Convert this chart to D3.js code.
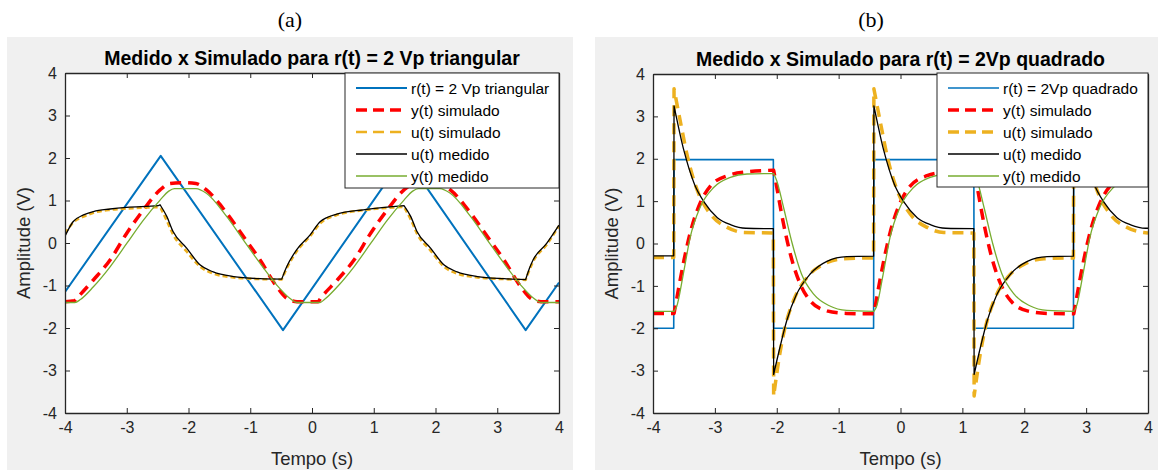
<!DOCTYPE html>
<meta charset="utf-8">
<style>
  body { margin: 0; background: #fff; }
  svg text { font-family: "Liberation Sans", Arial, sans-serif; fill: #262626; }
</style>
<body>

<div class="chart"></div>

<!-- load the d3.js library -->
<script src="https://d3js.org/d3.v7.min.js"></script>

<script>

// ---- data ----
var xTicks = [-4, -3, -2, -1, 0, 1, 2, 3, 4];
var yTicks = [-4, -3, -2, -1, 0, 1, 2, 3, 4];

var titleA = "Medido x Simulado para r(t) = 2 Vp triangular";
var titleB = "Medido x Simulado para r(t) = 2Vp quadrado";
var namesA = ["r(t) = 2 Vp triangular", "y(t) simulado", "u(t) simulado", "u(t) medido", "y(t) medido"];
var namesB = ["r(t) = 2Vp quadrado", "y(t) simulado", "u(t) simulado", "u(t) medido", "y(t) medido"];

// (a) triangular input; every series is a list of continuous pieces [t, v]
var rTriA = [[[-4, -1.15], [-2.45, 2.05], [-0.47, -2.05], [1.50, 2.05], [3.46, -2.05], [4, -0.93]]];

var ySimA = [[[-4, -1.38], [-3.85, -1.36], [-3.81, -1.30], [-3.54, -0.87], [-3.27, -0.40], [-3.0, 0.23],
  [-2.73, 0.78], [-2.46, 1.25], [-2.30, 1.40], [-2.10, 1.42], [-1.88, 1.40], [-1.71, 1.25], [-1.38, 0.70],
  [-1.11, 0.15], [-0.84, -0.40], [-0.57, -1.03], [-0.41, -1.30], [-0.24, -1.38], [0.10, -1.38],
  [0.14, -1.30], [0.41, -0.87], [0.68, -0.40], [0.95, 0.23], [1.22, 0.78], [1.49, 1.25], [1.65, 1.40],
  [1.85, 1.42], [2.07, 1.40], [2.24, 1.25], [2.57, 0.70], [2.84, 0.15], [3.11, -0.40], [3.38, -1.03],
  [3.54, -1.30], [3.71, -1.38], [4.0, -1.38]]];

var uSimA = [[[-4, 0.22], [-3.87, 0.48], [-3.70, 0.62], [-3.54, 0.71], [-3.27, 0.78], [-3.0, 0.81],
  [-2.49, 0.84], [-2.45, 0.82]],
  [[-2.45, 0.82], [-2.35, 0.52], [-2.25, 0.20], [-2.03, -0.20], [-1.81, -0.56], [-1.60, -0.72],
  [-1.27, -0.81], [-0.84, -0.85], [-0.49, -0.86]],
  [[-0.49, -0.86], [-0.41, -0.60], [-0.25, -0.20], [-0.03, 0.16], [0.13, 0.46], [0.40, 0.66],
  [0.83, 0.77], [1.26, 0.83], [1.49, 0.85]],
  [[1.49, 0.85], [1.60, 0.55], [1.70, 0.22], [1.92, -0.18], [2.14, -0.56], [2.35, -0.72], [2.68, -0.81],
  [3.11, -0.85], [3.46, -0.87]],
  [[3.46, -0.87], [3.52, -0.64], [3.58, -0.44], [3.80, -0.04], [4.0, 0.40]]];

var uMedA = [[[-4, 0.16], [-3.87, 0.50], [-3.70, 0.66], [-3.54, 0.74], [-3.27, 0.80], [-3.0, 0.84],
  [-2.49, 0.88], [-2.46, 0.90]],
  [[-2.46, 0.90], [-2.35, 0.62], [-2.25, 0.27], [-2.03, -0.12], [-1.81, -0.52], [-1.60, -0.68],
  [-1.27, -0.79], [-0.84, -0.84], [-0.49, -0.85]],
  [[-0.49, -0.85], [-0.41, -0.56], [-0.25, -0.16], [-0.03, 0.19], [0.13, 0.50], [0.40, 0.68],
  [0.83, 0.78], [1.26, 0.85], [1.49, 0.88]],
  [[1.49, 0.88], [1.60, 0.62], [1.70, 0.27], [1.92, -0.12], [2.14, -0.52], [2.35, -0.68], [2.68, -0.79],
  [3.11, -0.84], [3.46, -0.86]],
  [[3.46, -0.86], [3.52, -0.60], [3.58, -0.40], [3.80, -0.01], [4.0, 0.42]]];

var yMedA = [[[-4, -1.40], [-3.84, -1.40], [-3.75, -1.33], [-3.54, -1.03], [-3.27, -0.56], [-3.0, -0.01],
  [-2.73, 0.54], [-2.46, 1.01], [-2.32, 1.22], [-2.23, 1.28], [-1.88, 1.28], [-1.71, 1.17], [-1.38, 0.62],
  [-1.11, 0.07], [-0.84, -0.48], [-0.57, -0.99], [-0.36, -1.30], [-0.25, -1.40], [0.13, -1.40],
  [0.20, -1.33], [0.41, -1.03], [0.68, -0.56], [0.95, -0.01], [1.22, 0.54], [1.49, 1.01], [1.63, 1.22],
  [1.72, 1.28], [2.07, 1.28], [2.24, 1.17], [2.57, 0.62], [2.84, 0.07], [3.11, -0.48], [3.38, -0.99],
  [3.59, -1.30], [3.70, -1.40], [4.0, -1.40]]];

// (b) square input
var rSqB = [[[-4, -2], [-3.665, -2], [-3.66, 1.98], [-2.055, 1.98], [-2.05, -2], [-0.435, -2], [-0.43, 1.98],
  [1.185, 1.98], [1.19, -2], [2.795, -2], [2.80, 1.98], [4, 1.98]]];

var ySimB = [[[-4, -1.65], [-3.66, -1.65]],
  [[-3.66, -1.65], [-3.61, -1.25], [-3.50, -0.40], [-3.39, 0.30], [-3.23, 0.98], [-3.07, 1.36], [-2.80, 1.60],
  [-2.48, 1.69], [-2.05, 1.73]],
  [[-2.05, 1.73], [-2.00, 1.33], [-1.89, 0.46], [-1.78, -0.25], [-1.62, -0.96], [-1.46, -1.35], [-1.19, -1.59],
  [-0.87, -1.65], [-0.43, -1.66]],
  [[-0.43, -1.66], [-0.38, -1.25], [-0.27, -0.40], [-0.16, 0.30], [0.00, 0.98], [0.16, 1.36], [0.43, 1.60],
  [0.75, 1.69], [1.19, 1.73]],
  [[1.19, 1.73], [1.24, 1.33], [1.35, 0.46], [1.46, -0.25], [1.62, -0.96], [1.78, -1.35], [2.05, -1.59],
  [2.37, -1.65], [2.80, -1.66]],
  [[2.80, -1.66], [2.85, -1.25], [2.96, -0.40], [3.07, 0.30], [3.23, 0.98], [3.39, 1.36], [3.66, 1.60],
  [3.98, 1.69], [4.0, 1.69]]];

var uSimB = [[[-4, -0.33], [-3.665, -0.33]],
  [[-3.66, 3.65], [-3.55, 2.82], [-3.44, 2.03], [-3.28, 1.24], [-3.07, 0.69], [-2.80, 0.38], [-2.53, 0.26],
  [-2.055, 0.25]],
  [[-2.05, -3.60], [-1.95, -2.60], [-1.87, -2.00], [-1.73, -1.35], [-1.51, -0.80], [-1.24, -0.49],
  [-0.92, -0.36], [-0.435, -0.34]],
  [[-0.43, 3.65], [-0.32, 2.82], [-0.21, 2.03], [-0.05, 1.24], [0.16, 0.69], [0.43, 0.38], [0.70, 0.26],
  [1.185, 0.25]],
  [[1.19, -3.60], [1.29, -2.60], [1.37, -2.00], [1.51, -1.35], [1.73, -0.80], [2.00, -0.49], [2.32, -0.36],
  [2.795, -0.34]],
  [[2.80, 3.65], [2.91, 2.82], [3.02, 2.03], [3.18, 1.24], [3.39, 0.69], [3.66, 0.38], [3.93, 0.26],
  [4.0, 0.25]]];

var uMedB = [[[-4, -0.29], [-3.665, -0.29]],
  [[-3.66, 3.25], [-3.50, 2.19], [-3.33, 1.40], [-3.17, 0.97], [-2.96, 0.61], [-2.74, 0.44], [-2.50, 0.36],
  [-2.055, 0.35]],
  [[-2.05, -3.09], [-1.95, -2.46], [-1.84, -1.83], [-1.68, -1.20], [-1.46, -0.72], [-1.19, -0.42],
  [-0.87, -0.31], [-0.435, -0.30]],
  [[-0.43, 3.25], [-0.27, 2.19], [-0.10, 1.40], [0.06, 0.97], [0.27, 0.61], [0.49, 0.44], [0.73, 0.36],
  [1.185, 0.35]],
  [[1.19, -3.09], [1.29, -2.46], [1.40, -1.83], [1.56, -1.20], [1.78, -0.72], [2.05, -0.42], [2.37, -0.31],
  [2.795, -0.30]],
  [[2.80, 3.25], [2.96, 2.19], [3.13, 1.40], [3.29, 0.97], [3.50, 0.61], [3.72, 0.44], [3.96, 0.36],
  [4.0, 0.36]]];

var yMedB = [[[-4, -1.60], [-3.66, -1.60]],
  [[-3.66, -1.60], [-3.62, -1.50], [-3.51, -0.72], [-3.40, 0.14], [-3.24, 0.85], [-3.02, 1.32], [-2.75, 1.56],
  [-2.48, 1.64], [-2.05, 1.65]],
  [[-2.05, 1.65], [-2.00, 1.48], [-1.89, 0.85], [-1.75, 0.00], [-1.60, -0.72], [-1.40, -1.20], [-1.15, -1.47],
  [-0.87, -1.58], [-0.43, -1.60]],
  [[-0.43, -1.60], [-0.39, -1.50], [-0.28, -0.72], [-0.17, 0.14], [-0.01, 0.85], [0.21, 1.32], [0.48, 1.56],
  [0.75, 1.64], [1.19, 1.65]],
  [[1.19, 1.65], [1.24, 1.48], [1.35, 0.85], [1.49, 0.00], [1.64, -0.72], [1.84, -1.20], [2.09, -1.47],
  [2.37, -1.58], [2.80, -1.60]],
  [[2.80, -1.60], [2.84, -1.50], [2.95, -0.72], [3.06, 0.14], [3.22, 0.85], [3.44, 1.32], [3.71, 1.56],
  [3.98, 1.64], [4.0, 1.64]]];

// ---- page ----
var W = 1158, H = 470;

var svg = d3.select(".chart").append("svg")
    .attr("width", W)
    .attr("height", H);

// grey figure backgrounds
svg.append("rect").attr("x", 7).attr("y", 37).attr("width", 566).attr("height", H - 37).style("fill", "#f0f0f0");
svg.append("rect").attr("x", 595).attr("y", 37).attr("width", W - 595).attr("height", H - 37).style("fill", "#f0f0f0");

// panel letters
svg.append("text").attr("x", 290).attr("y", 27).attr("text-anchor", "middle")
    .style("font-family", "'Liberation Serif', 'Times New Roman', serif").style("font-size", "22px").style("fill", "#000")
    .text("(a)");
svg.append("text").attr("x", 871).attr("y", 27).attr("text-anchor", "middle")
    .style("font-family", "'Liberation Serif', 'Times New Roman', serif").style("font-size", "22px").style("fill", "#000")
    .text("(b)");

drawPanel({
  id: "A", left: 65, right: 559, top: 73, bottom: 413,
  title: titleA, names: namesA,
  legend: {x: 345, y: 73, w: 214, h: 115},
  series: [
    {data: rTriA, color: "#0072BD", width: 2, dash: null, smooth: false},
    {data: ySimA, color: "#FF0000", width: 3.5, dash: "11,7", smooth: true},
    {data: uSimA, color: "#EDB120", width: 2.5, dash: "5,3", smooth: true},
    {data: uMedA, color: "#000000", width: 1.3, dash: null, smooth: true},
    {data: yMedA, color: "#77AC30", width: 1.3, dash: null, smooth: true}
  ]
});

drawPanel({
  id: "B", left: 653, right: 1148, top: 74, bottom: 413,
  title: titleB, names: namesB,
  legend: {x: 937, y: 73, w: 211, h: 114},
  series: [
    {data: rSqB, color: "#0072BD", width: 1.6, dash: null, smooth: false},
    {data: ySimB, color: "#FF0000", width: 3.5, dash: "11,7", smooth: true},
    {data: uSimB, color: "#EDB120", width: 3.5, dash: "11,7", smooth: true},
    {data: uMedB, color: "#000000", width: 1.3, dash: null, smooth: true},
    {data: yMedB, color: "#77AC30", width: 1.3, dash: null, smooth: true}
  ]
});

function drawPanel(p) {
  var x = d3.scaleLinear().domain([-4, 4]).range([p.left, p.right]);
  var y = d3.scaleLinear().domain([-4, 4]).range([p.bottom, p.top]);
  var cx = (p.left + p.right) / 2;

  var g = svg.append("g");

  // white axes area
  g.append("rect")
      .attr("x", p.left).attr("y", p.top)
      .attr("width", p.right - p.left).attr("height", p.bottom - p.top)
      .style("fill", "#fff");

  g.append("clipPath").attr("id", "clip" + p.id)
    .append("rect")
      .attr("x", p.left).attr("y", p.top)
      .attr("width", p.right - p.left).attr("height", p.bottom - p.top);

  var smoothLine = d3.line().x(function(d) { return x(d[0]); }).y(function(d) { return y(d[1]); })
      .curve(d3.curveMonotoneX);
  var straightLine = d3.line().x(function(d) { return x(d[0]); }).y(function(d) { return y(d[1]); });

  // join the pieces of one series into a single path
  function piecePath(pieces, line) {
    return pieces.map(function(s, i) {
      var d = line(s);
      return i === 0 ? d : "L" + d.slice(1);
    }).join("");
  }

  var plot = g.append("g").attr("clip-path", "url(#clip" + p.id + ")");
  p.series.forEach(function(s) {
    plot.append("path")
        .attr("d", piecePath(s.data, s.smooth ? smoothLine : straightLine))
        .style("fill", "none")
        .style("stroke", s.color)
        .style("stroke-width", s.width)
        .style("stroke-dasharray", s.dash)
        .style("stroke-linejoin", "round");
  });

  var fmt = function(d) { return String(d); };

  // axes with inward ticks on all four sides
  var bottom = g.append("g").attr("transform", "translate(0," + p.bottom + ")")
      .call(d3.axisBottom(x).tickValues(xTicks).tickFormat(fmt).tickSizeInner(-5).tickSizeOuter(0).tickPadding(9));
  var left = g.append("g").attr("transform", "translate(" + p.left + ",0)")
      .call(d3.axisLeft(y).tickValues(yTicks).tickFormat(fmt).tickSizeInner(-5).tickSizeOuter(0).tickPadding(8));
  var top = g.append("g").attr("transform", "translate(0," + p.top + ")")
      .call(d3.axisTop(x).tickValues(xTicks).tickFormat("").tickSizeInner(-5).tickSizeOuter(0));
  var right = g.append("g").attr("transform", "translate(" + p.right + ",0)")
      .call(d3.axisRight(y).tickValues(yTicks).tickFormat("").tickSizeInner(-5).tickSizeOuter(0));

  [bottom, left, top, right].forEach(function(a) {
    a.selectAll(".domain").style("stroke", "#262626").style("stroke-width", 1.3);
    a.selectAll(".tick line").style("stroke", "#262626").style("stroke-width", 1);
    a.selectAll(".tick text")
        .style("font-family", "'Liberation Sans', Arial, sans-serif")
        .style("font-size", "16px")
        .style("fill", "#262626");
  });

  // title and axis labels
  g.append("text")
      .attr("x", cx).attr("y", p.top - 8)
      .attr("text-anchor", "middle")
      .style("font-size", "19.5px").style("font-weight", "bold").style("fill", "#000")
      .text(p.title);

  g.append("text")
      .attr("x", cx).attr("y", p.bottom + 52)
      .attr("text-anchor", "middle")
      .style("font-size", "18.5px")
      .text("Tempo (s)");

  g.append("text")
      .attr("transform", "translate(" + (p.left - 35) + "," + ((p.top + p.bottom) / 2) + ") rotate(-90)")
      .attr("text-anchor", "middle")
      .style("font-size", "18.5px")
      .text("Amplitude (V)");

  // legend
  var lg = g.append("g").attr("transform", "translate(" + p.legend.x + "," + p.legend.y + ")");
  lg.append("rect")
      .attr("width", p.legend.w).attr("height", p.legend.h)
      .style("fill", "#fff").style("stroke", "#262626").style("stroke-width", 1);

  p.series.forEach(function(s, i) {
    var ry = 15 + i * 22;
    lg.append("line")
        .attr("x1", 11).attr("x2", 62).attr("y1", ry).attr("y2", ry)
        .style("stroke", s.color)
        .style("stroke-width", s.width)
        .style("stroke-dasharray", s.dash ? "11,6" : null);
    lg.append("text")
        .attr("x", 66).attr("y", ry + 5.5)
        .style("font-size", "15.5px").style("fill", "#000")
        .text(p.names[i]);
  });
}

</script>

</body>
